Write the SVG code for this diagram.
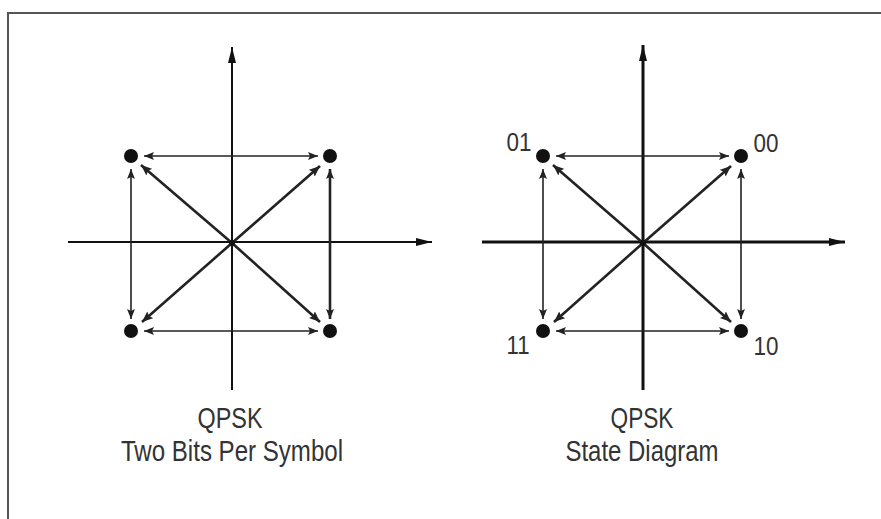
<svg xmlns="http://www.w3.org/2000/svg" width="881" height="519" viewBox="0 0 881 519">
<style>
.frame{fill:none;stroke:#555;stroke-width:2}
.axis{stroke:#111;stroke-width:2}
.axisb{stroke:#111;stroke-width:3}
.tr{stroke:#222;stroke-width:1.6;fill:none}
.dg{stroke:#222;stroke-width:2.6;fill:none}
.dot{fill:#111}
.lbl{font-family:"Liberation Sans",Arial,sans-serif;fill:#333;text-anchor:middle}
</style>
<defs>
<marker id="big" viewBox="0 0 16 10" refX="16" refY="5" markerWidth="16" markerHeight="10" markerUnits="userSpaceOnUse" orient="auto"><path d="M0,5 L0,1 L16,5 L0,9 Z" fill="#111"/></marker>
<marker id="sm" viewBox="0 0 10 8" refX="10" refY="4" markerWidth="10" markerHeight="8" markerUnits="userSpaceOnUse" orient="auto-start-reverse"><path d="M0,0 L10,4 L0,8 L2,4 Z" fill="#222"/></marker>
<marker id="sd" viewBox="0 0 11 9" refX="11" refY="4.5" markerWidth="11" markerHeight="9" markerUnits="userSpaceOnUse" orient="auto"><path d="M0,0 L11,4.5 L0,9 L2,4.5 Z" fill="#222"/></marker>
</defs>
<path class="frame" d="M8,519 L8,13 L881,13"/>
<g id="left-diagram">
<line class="axis" x1="232" y1="390" x2="232" y2="47" marker-end="url(#big)"/>
<line class="axis" x1="68" y1="242" x2="432" y2="242" marker-end="url(#big)"/>
</g>
<g id="connectors-left">
<line class="tr" x1="144" y1="156" x2="318" y2="156" marker-start="url(#sm)" marker-end="url(#sm)"/>
<line class="tr" x1="144" y1="331" x2="318" y2="331" marker-start="url(#sm)" marker-end="url(#sm)"/>
<line class="tr" x1="131" y1="169" x2="131" y2="319" marker-start="url(#sm)" marker-end="url(#sm)"/>
<line class="dg" x1="330" y1="169" x2="330" y2="319" marker-start="url(#sm)" marker-end="url(#sm)"/>
<line class="dg" x1="232" y1="243" x2="141" y2="165" marker-end="url(#sd)"/>
<line class="dg" x1="232" y1="243" x2="320" y2="166" marker-end="url(#sd)"/>
<line class="dg" x1="232" y1="243" x2="142" y2="322" marker-end="url(#sd)"/>
<line class="dg" x1="232" y1="243" x2="320" y2="322" marker-end="url(#sd)"/>
</g>
<g id="left-points">
<circle class="dot" cx="131" cy="156" r="7"/>
<circle class="dot" cx="330" cy="156" r="7"/>
<circle class="dot" cx="131" cy="331" r="7"/>
<circle class="dot" cx="330" cy="331" r="7"/>
<circle class="dot" cx="232" cy="243" r="3"/>
</g>
<g id="left-caption">
<text class="lbl" x="230" y="428" font-size="29" textLength="65" lengthAdjust="spacingAndGlyphs">QPSK</text>
<text class="lbl" x="232" y="461" font-size="29" textLength="222" lengthAdjust="spacingAndGlyphs">Two Bits Per Symbol</text>
</g>
<g id="right-diagram">
<line class="axisb" x1="643" y1="390" x2="643" y2="45" marker-end="url(#big)"/>
<line class="axisb" x1="482" y1="242" x2="845" y2="242" marker-end="url(#big)"/>
</g>
<g id="connectors-right">
<line class="tr" x1="556" y1="156" x2="729" y2="156" marker-start="url(#sm)" marker-end="url(#sm)"/>
<line class="tr" x1="556" y1="331" x2="729" y2="331" marker-start="url(#sm)" marker-end="url(#sm)"/>
<line class="tr" x1="543" y1="169" x2="543" y2="319" marker-start="url(#sm)" marker-end="url(#sm)"/>
<line class="tr" x1="741" y1="169" x2="741" y2="319" marker-start="url(#sm)" marker-end="url(#sm)"/>
<line class="dg" x1="643" y1="243" x2="553" y2="165" marker-end="url(#sd)"/>
<line class="dg" x1="643" y1="243" x2="731" y2="166" marker-end="url(#sd)"/>
<line class="dg" x1="643" y1="243" x2="554" y2="322" marker-end="url(#sd)"/>
<line class="dg" x1="643" y1="243" x2="731" y2="322" marker-end="url(#sd)"/>
</g>
<g id="state-01"><circle class="dot" cx="543" cy="156" r="7"/><text class="lbl" x="519" y="151" font-size="25" textLength="25" lengthAdjust="spacingAndGlyphs">01</text></g>
<g id="state-00"><circle class="dot" cx="741" cy="156" r="7"/><text class="lbl" x="766" y="152" font-size="25" textLength="25" lengthAdjust="spacingAndGlyphs">00</text></g>
<g id="state-11"><circle class="dot" cx="543" cy="331" r="7"/><text class="lbl" x="518" y="354" font-size="25" textLength="23" lengthAdjust="spacingAndGlyphs">11</text></g>
<g id="state-10"><circle class="dot" cx="741" cy="331" r="7"/><text class="lbl" x="766" y="355" font-size="25" textLength="25" lengthAdjust="spacingAndGlyphs">10</text></g>
<circle class="dot" cx="643" cy="243" r="3"/>
<g id="right-caption">
<text class="lbl" x="642" y="428" font-size="29" textLength="63" lengthAdjust="spacingAndGlyphs">QPSK</text>
<text class="lbl" x="642" y="461" font-size="29" textLength="153" lengthAdjust="spacingAndGlyphs">State Diagram</text>
</g>
</svg>
